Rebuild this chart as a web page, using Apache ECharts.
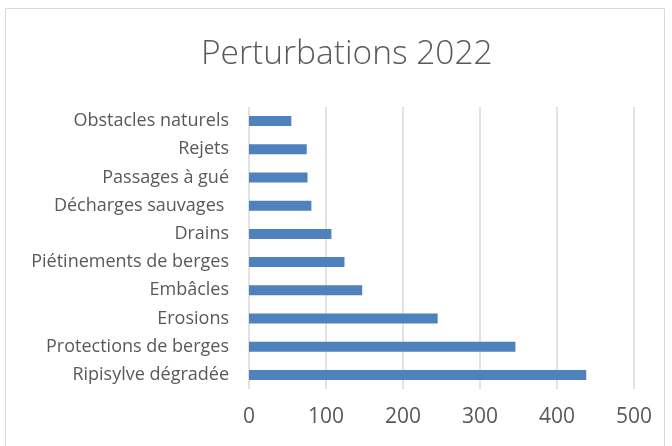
<!DOCTYPE html>
<html>
<head>
<meta charset="utf-8">
<script src="https://cdn.jsdelivr.net/npm/echarts@6/dist/echarts.min.js"></script>
<style>
  html, body { margin: 0; padding: 0; background: #fff; }
  #main { width: 672px; height: 446px; }
</style>
</head>
<body>
<div id="main"></div>
<script>
// bottom-to-top order (category axis starts at the bottom)
const categories = [
  "Ripisylve dégradée",
  "Protections de berges",
  "Erosions",
  "Embâcles",
  "Piétinements de berges",
  "Drains",
  "Décharges sauvages ",
  "Passages à gué",
  "Rejets",
  "Obstacles naturels",
];
const values = [438, 346, 245, 147, 124, 107, 81, 76, 75, 55];
const xTicks = [0, 100, 200, 300, 400, 500];

const chart = echarts.init(document.getElementById("main"), null, { renderer: "canvas" });

const option = {
  backgroundColor: "#ffffff",
  animation: false,
  title: {
    text: "Perturbations 2022",
    left: 196,
    top: 32,
    textStyle: {
      fontFamily: "Open Sans",
      fontSize: 33.5,
      fontWeight: 300,
      color: "#595959",
    },
  },
  graphic: [
    {
      type: "rect",
      shape: { x: 5.5, y: 8.5, width: 659, height: 450 },
      style: { fill: "none", stroke: "#d9d9d9", lineWidth: 1 },
      silent: true,
    },
  ],
  grid: {
    left: 249,
    right: 38,
    top: 107,
    bottom: 57,
    containLabel: false,
  },
  xAxis: {
    type: "value",
    min: xTicks[0],
    max: xTicks[xTicks.length - 1],
    interval: 100,
    axisLine: { show: false },
    axisTick: { show: false },
    axisLabel: {
      margin: 18,
      fontFamily: "Open Sans",
      fontSize: 21,
      color: "#595959",
    },
    splitLine: { lineStyle: { color: "#d9d9d9", width: 1.5 } },
  },
  yAxis: {
    type: "category",
    data: categories,
    axisLine: { show: false },
    axisTick: { show: false },
    axisLabel: {
      margin: 20,
      fontFamily: "Open Sans",
      fontSize: 18,
      color: "#595959",
    },
  },
  series: [
    {
      name: "Perturbations",
      type: "bar",
      data: values,
      barWidth: 10,
      itemStyle: { color: "#4f81bd" },
    },
  ],
};

chart.setOption(option, true);
</script>
</body>
</html>
